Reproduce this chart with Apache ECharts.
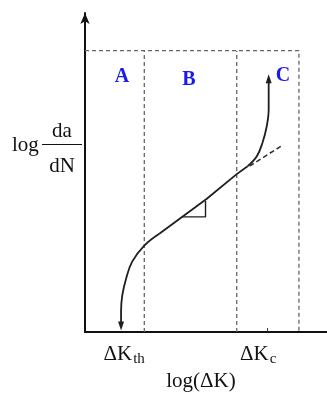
<!DOCTYPE html>
<html>
<head>
<meta charset="utf-8">
<script src="https://cdn.jsdelivr.net/npm/echarts@6/dist/echarts.min.js"></script>
<style>
  html,body{margin:0;padding:0;background:#fff;}
  #chart{width:327px;height:397px;}
</style>
</head>
<body>
<div id="chart"></div>
<script>
  // 区域 A/B/C 的分界 (横轴 log ΔK, 0-100)
  var regionNames=['A','B','C'];
  var regionEdges=[24.5,62.7,88.4];
  var topLevel=88.2;
  // 门槛区曲线 (从 ΔKth 往上)
  var curveLow=[[14.9,1.9],[14.9,6.5],[15.4,11.5],[17.0,16.8],[19.5,22.1],[24.5,27.1],[30.7,30.8]];
  // 稳定扩展区直线 (Paris)
  var curveMid=[[30.7,30.8],[50.2,41.7],[62.7,49.5],[67.2,52.0]];
  // 快速断裂区曲线
  var curveHigh=[[67.2,52.0],[71.0,55.1],[73.4,59.5],[75.1,64.5],[75.9,69.8],[75.9,75.1],[75.9,79.4]];
  // 直线的延长线(虚线)
  var extension=[[68.0,52.0],[81.7,58.6]];
  // 斜率三角形
  var slopeMark=[[40.2,36.1],[49.8,36.1],[49.8,41.1]];
  // 横轴标注
  var kValues=[16.2,71.6];
  var kSubs=['th','c'];
  var kcTick=[75.5];

  var serif='"Liberation Serif", "DejaVu Serif", serif';
  var lineColor='#1e1e1e';
  var dashColor='#666';

  var chart=echarts.init(document.getElementById('chart'));

  var series=[];
  // 虚线框
  var box=[[0,topLevel],[regionEdges[2],topLevel],[regionEdges[2],0]];
  series.push({type:'line',data:box,symbol:'none',silent:true,
    lineStyle:{color:dashColor,width:1.3,type:[4,3]}});
  regionEdges.slice(0,2).forEach(function(x){
    series.push({type:'line',data:[[x,0],[x,topLevel]],symbol:'none',silent:true,
      lineStyle:{color:dashColor,width:1.3,type:[4,3]}});
  });
  series.push({type:'line',data:extension,symbol:'none',silent:true,
    lineStyle:{color:'#333',width:1.6,type:[5,3]}});

  var low=curveLow.map(function(p,i){
    if(i==0){
      return {value:p,symbol:'triangle',symbolSize:[6,9],symbolRotate:180};
    }
    return {value:p,symbol:'none'};
  });
  var high=curveHigh.map(function(p,i){
    if(i==curveHigh.length-1){
      return {value:p,symbol:'triangle',symbolSize:[6,9]};
    }
    return {value:p,symbol:'none'};
  });
  series.push({type:'line',data:low,smooth:0.4,showSymbol:true,silent:true,
    itemStyle:{color:lineColor},lineStyle:{color:lineColor,width:1.8}});
  series.push({type:'line',data:curveMid,symbol:'none',silent:true,
    lineStyle:{color:lineColor,width:1.8}});
  series.push({type:'line',data:high,smooth:0.4,showSymbol:true,silent:true,
    itemStyle:{color:lineColor},lineStyle:{color:lineColor,width:1.8}});
  series.push({type:'line',data:slopeMark,symbol:'none',silent:true,
    lineStyle:{color:lineColor,width:1.4}});

  var labelPos=[[122,77],[189,80],[283,76]];
  var graphics=regionNames.map(function(n,i){
    return {type:'text',x:labelPos[i][0],y:labelPos[i][1],
      style:{text:n,font:'bold 20px '+serif,fill:'#1a1aee',align:'center',verticalAlign:'middle'}};
  });
  // 纵轴名 log da/dN
  graphics.push({type:'text',x:12,y:145,style:{text:'log',font:'21px '+serif,fill:'#111',align:'left',verticalAlign:'middle'}});
  graphics.push({type:'text',x:62,y:131,style:{text:'da',font:'21px '+serif,fill:'#111',align:'center',verticalAlign:'middle'}});
  graphics.push({type:'text',x:62,y:166,style:{text:'dN',font:'21px '+serif,fill:'#111',align:'center',verticalAlign:'middle'}});
  graphics.push({type:'line',shape:{x1:42,y1:144.5,x2:82,y2:144.5},style:{stroke:'#111',lineWidth:1.2}});

  chart.setOption({
    backgroundColor:'#fff',
    animation:false,
    grid:{left:85,right:0,top:13,bottom:63},
    xAxis:{
      type:'value',min:0,max:100,
      axisLine:{lineStyle:{color:'#111',width:2}},
      splitLine:{show:false},
      axisTick:{show:true,inside:true,length:4,customValues:kcTick,lineStyle:{color:'#333',width:1}},
      axisLabel:{
        customValues:kValues,margin:10,
        formatter:function(v){
          var i=kValues.indexOf(v);
          return '{k|ΔK}{s|'+kSubs[i]+'}';
        },
        rich:{
          k:{fontFamily:serif,fontSize:21,color:'#111'},
          s:{fontFamily:serif,fontSize:15,color:'#111',padding:[9,0,0,1]}
        }
      },
      name:'log(ΔK)',nameLocation:'middle',nameGap:37,
      nameTextStyle:{fontFamily:serif,fontSize:21,color:'#111',padding:[0,10,0,0]}
    },
    yAxis:{
      type:'value',min:0,max:100,
      axisLine:{symbol:['none','arrow'],symbolSize:[7,11],lineStyle:{color:'#111',width:2}},
      axisTick:{show:false},axisLabel:{show:false},splitLine:{show:false}
    },
    graphic:graphics,
    series:series
  });
</script>
</body>
</html>
